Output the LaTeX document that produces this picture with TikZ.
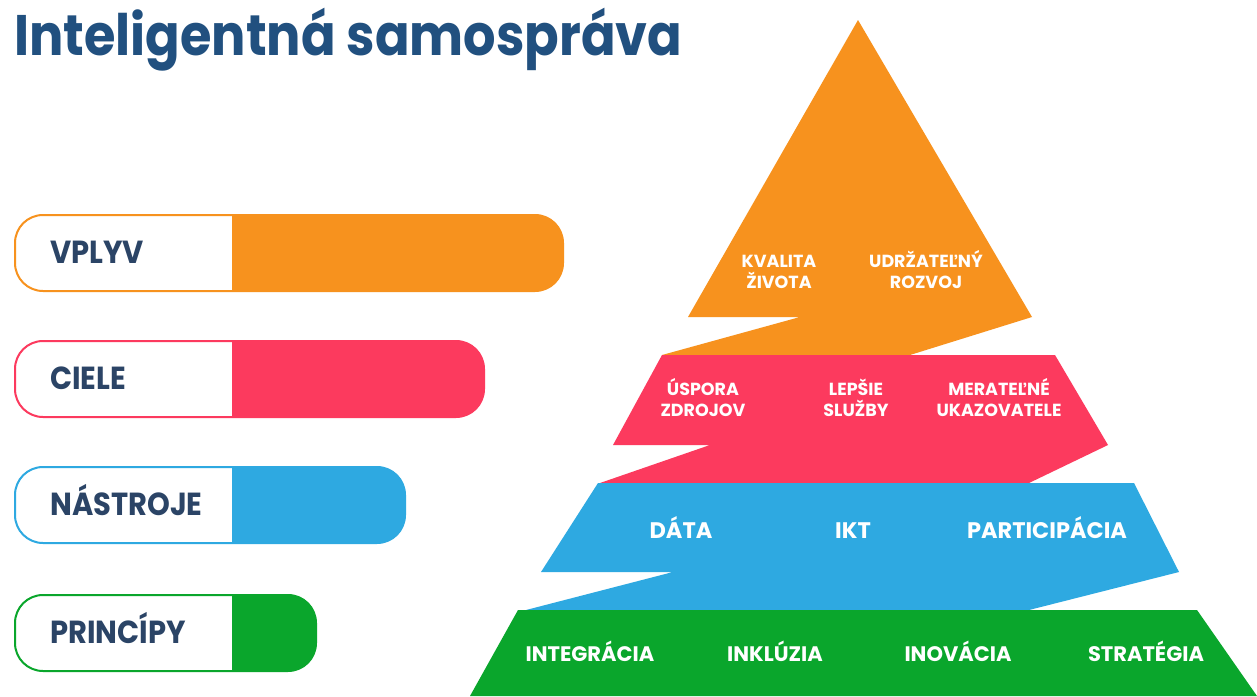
\documentclass[tikz,border=0pt]{standalone}
\usepackage{fontspec}
\setmainfont{Poppins}
\definecolor{cor}{HTML}{F7921E}
\definecolor{cpk}{HTML}{FC3A5E}
\definecolor{cbl}{HTML}{2EA9E1}
\definecolor{cgr}{HTML}{0AA62C}
\definecolor{ctitle}{HTML}{21507F}
\definecolor{clab}{HTML}{2B4466}
\newcommand{\fl}{\vphantom{ÚŽ}}
\begin{document}
\begin{tikzpicture}[x=1pt,y=-1pt,
  lab/.style={anchor=west,text=clab,font=\bfseries\fontsize{29}{31}\selectfont,inner sep=0,text height=24pt,text depth=0pt},
  ptxt/.style={text=white,align=center,inner sep=0,font=\bfseries\fontsize{17.5}{21}\selectfont},
  btxt/.style={text=white,inner sep=0,text height=16pt,text depth=0pt,font=\bfseries\fontsize{22.5}{24}\selectfont},
  gtxt/.style={text=white,inner sep=0,text height=15pt,text depth=0pt,font=\bfseries\fontsize{21}{24}\selectfont}]
\useasboundingbox (0,0) rectangle (1257,696);
\fill[white] (0,0) rectangle (1257,696);
% title
\node[anchor=base west,inner sep=0,text=ctitle,font=\bfseries\fontsize{51}{55}\selectfont] (title) at (14,55) {\scalebox{1}[1.12]{Inteligentná samospráva}};
% bars
\foreach \c/\y/\r/\t/\n in {cor/215/563/VPLYV/b1,cpk/341/484/CIELE/b2,cbl/467/405/NÁSTROJE/b3,cgr/595/316/PRINCÍPY/b4}{
  \begin{scope}
    \clip[rounded corners=28pt] (15,\y) rectangle (\r,\y+76);
    \fill[\c] (232,\y) rectangle (\r,\y+76);
  \end{scope}
  \draw[\c,line width=2pt,rounded corners=28pt] (15,\y) rectangle (\r,\y+76);
  \node[lab,anchor=base west] (\n) at (50,\y+48) {\scalebox{1}[1.1]{\t}};
}
% pyramid
\fill[cor] (858,20) -- (1032,317) -- (910,355) -- (662,355) -- (800,317) -- (688,317) -- cycle;
\fill[cpk] (662,355) -- (1055,355) -- (1108,445) -- (1029,483) -- (600,483) -- (710,445) -- (613,445) -- cycle;
\fill[cbl] (598,483) -- (1134,483) -- (1179,572) -- (1029,610) -- (526,610) -- (673,572) -- (541,572) -- cycle;
\fill[cgr] (518,610) -- (1197,610) -- (1257,696) -- (470,696) -- cycle;
% texts
\node[ptxt] (o1) at (779,270) {\fl KVALITA\\ŽIVOTA};
\node[ptxt] (o2) at (926,270) {\fl UDRŽATEĽNÝ\\ROZVOJ};
\node[ptxt] (p1) at (703,398) {\fl ÚSPORA\\ZDROJOV};
\node[ptxt] (p2) at (856,398) {\fl LEPŠIE\\SLUŽBY};
\node[ptxt] (p3) at (999,398) {\fl MERATEĽNÉ\\UKAZOVATELE};
\node[btxt] (d1) at (681,530) {DÁTA};
\node[btxt] (d2) at (853,530) {IKT};
\node[btxt] (d3) at (1047,530) {PARTICIPÁCIA};
\node[gtxt] (g1) at (590,654) {INTEGRÁCIA};
\node[gtxt] (g2) at (775,654) {INKLÚZIA};
\node[gtxt] (g3) at (958,654) {INOVÁCIA};
\node[gtxt] (g4) at (1146,654) {STRATÉGIA};
\end{tikzpicture}
\end{document}
